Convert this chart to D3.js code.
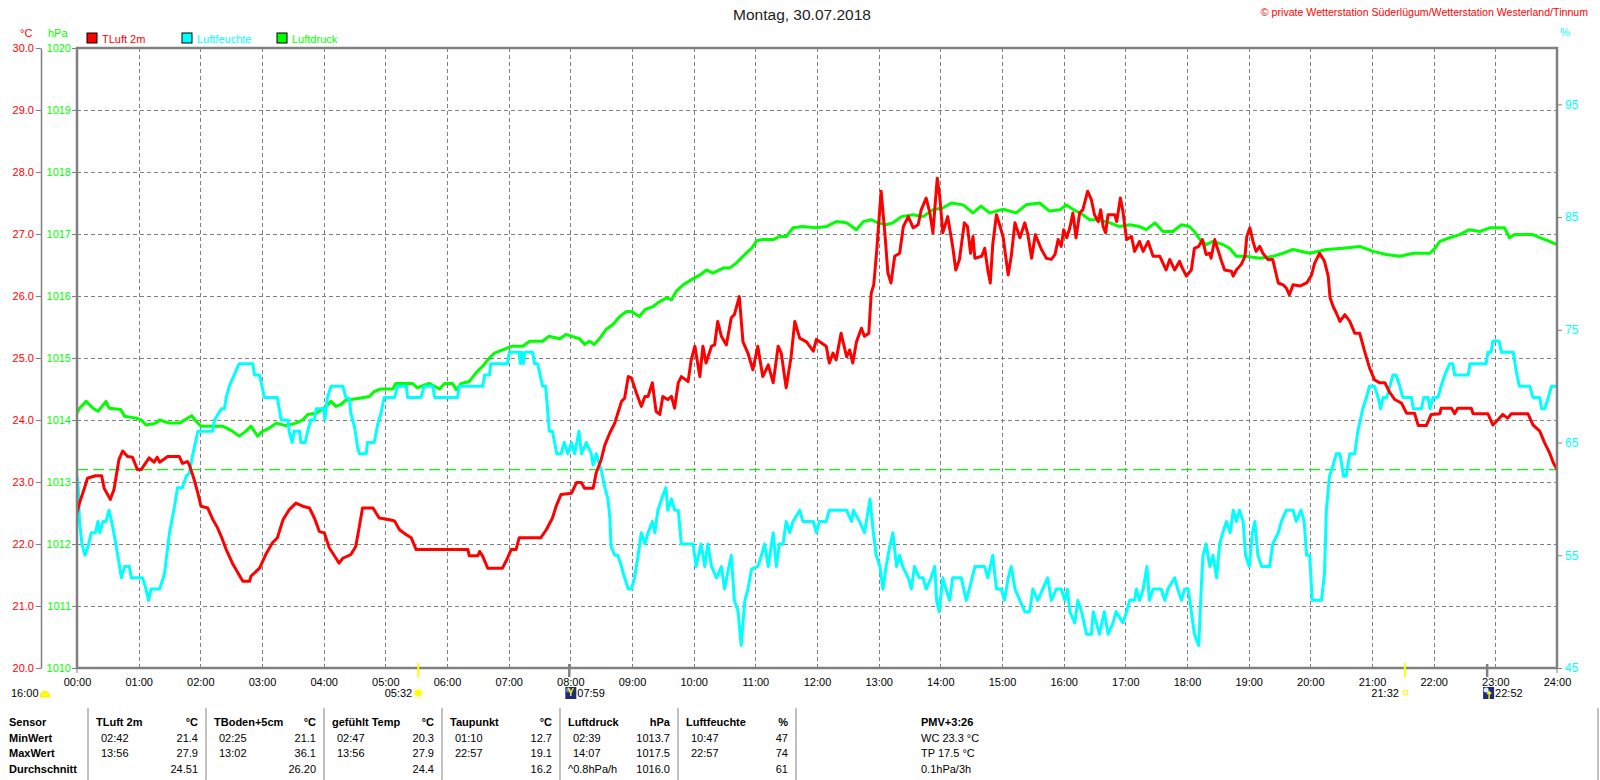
<!DOCTYPE html>
<html><head><meta charset="utf-8">
<script src="https://cdn.jsdelivr.net/npm/d3@7/dist/d3.min.js"></script>
<style>
html,body{margin:0;padding:0;background:#fff;}
svg{display:block;font-family:"Liberation Sans",Arial,sans-serif;}
</style></head>
<body>
<svg id="chart" width="1600" height="780"></svg>
<script>
// ---------------- DATA ----------------
const titleText = "Montag, 30.07.2018";
const copyrightText = "© private Wetterstation Süderlügum/Wetterstation Westerland/Tinnum";
const hourTicks = d3.range(0, 25);
const tempTicks = d3.range(20, 31);
const pressTicks = d3.range(1010, 1021);
const humTicks = [45, 55, 65, 75, 85, 95];
const refPressure = 1013.2;
const legendItems = [["TLuft 2m", "#ff0000"], ["Luftfeuchte", "#00ffff"], ["Luftdruck", "#00ff00"]];
const sunrise = 5 + 32/60, sunset = 21 + 32/60;
const moonset = 7 + 59/60, moonrise = 22 + 52/60;
const dayLength = "16:00";

// [hour, °C]
const tempSeries = [[0,22.5],[0.04,22.66],[0.12,22.9],[0.17,23.06],[0.3,23.1],[0.4,23.1],[0.44,22.9],[0.54,22.72],[0.6,22.88],[0.68,23.36],[0.74,23.5],[0.82,23.41],[0.9,23.4],[0.98,23.2],[1.04,23.2],[1.17,23.39],[1.25,23.32],[1.3,23.4],[1.34,23.32],[1.47,23.41],[1.66,23.41],[1.71,23.3],[1.79,23.33],[1.82,23.28],[1.9,23.04],[1.96,22.82],[2.01,22.61],[2.12,22.58],[2.2,22.4],[2.28,22.26],[2.36,22.07],[2.42,21.91],[2.52,21.69],[2.63,21.5],[2.69,21.4],[2.8,21.4],[2.82,21.48],[2.96,21.61],[3.06,21.83],[3.17,22.02],[3.25,22.1],[3.34,22.39],[3.44,22.55],[3.55,22.66],[3.66,22.61],[3.77,22.58],[3.85,22.42],[3.93,22.2],[4.01,22.18],[4.09,21.94],[4.2,21.77],[4.25,21.69],[4.31,21.77],[4.44,21.83],[4.52,21.96],[4.58,22.29],[4.63,22.58],[4.8,22.58],[4.9,22.42],[5.07,22.39],[5.15,22.37],[5.23,22.23],[5.34,22.15],[5.42,22.1],[5.5,21.91],[5.98,21.91],[6.34,21.91],[6.36,21.81],[6.5,21.81],[6.53,21.88],[6.58,21.8],[6.66,21.61],[6.9,21.61],[6.98,21.77],[7.04,21.91],[7.12,21.91],[7.17,22.1],[7.52,22.1],[7.61,22.23],[7.71,22.42],[7.77,22.61],[7.85,22.8],[8.02,22.82],[8.1,22.99],[8.18,22.99],[8.23,22.9],[8.37,22.9],[8.42,23.15],[8.5,23.36],[8.56,23.6],[8.64,23.79],[8.72,23.95],[8.77,24.11],[8.83,24.3],[8.88,24.35],[8.94,24.7],[8.99,24.68],[9.07,24.44],[9.15,24.22],[9.21,24.38],[9.26,24.38],[9.33,24.6],[9.39,24.14],[9.45,24.09],[9.5,24.38],[9.58,24.33],[9.64,24.38],[9.69,24.19],[9.75,24.6],[9.8,24.7],[9.91,24.62],[9.96,24.97],[10.02,25.19],[10.1,24.7],[10.15,25.19],[10.2,24.92],[10.29,25.19],[10.34,25.21],[10.39,25.59],[10.45,25.35],[10.53,25.21],[10.61,25.65],[10.66,25.7],[10.74,25.99],[10.8,25.26],[10.88,25.08],[10.96,24.81],[11.04,25.19],[11.12,24.7],[11.21,24.89],[11.29,24.6],[11.37,25.19],[11.42,25.08],[11.5,24.52],[11.58,25.02],[11.64,25.59],[11.72,25.32],[11.83,25.26],[11.94,25.11],[11.99,25.3],[12.15,25.19],[12.2,24.92],[12.26,25.08],[12.31,24.97],[12.39,25.4],[12.48,25.02],[12.53,25.13],[12.58,24.92],[12.64,25.26],[12.72,25.48],[12.77,25.35],[12.84,25.4],[12.88,26.05],[12.92,26.18],[12.97,26.75],[13.04,27.69],[13.1,27.02],[13.15,26.37],[13.2,26.21],[13.26,26.64],[13.34,26.69],[13.4,27.12],[13.48,27.28],[13.56,27.1],[13.64,27.15],[13.69,27.39],[13.77,27.58],[13.83,27.34],[13.88,27.02],[13.95,27.9],[13.99,27.61],[14.04,27.02],[14.12,27.28],[14.2,26.8],[14.25,26.42],[14.31,26.59],[14.39,27.18],[14.44,27.12],[14.49,26.69],[14.53,26.96],[14.56,26.61],[14.67,26.64],[14.72,26.77],[14.77,26.42],[14.81,26.21],[14.85,26.83],[14.91,27.31],[14.97,27.12],[15.02,26.94],[15.1,26.34],[15.15,26.64],[15.21,27.18],[15.29,26.94],[15.37,27.18],[15.42,26.99],[15.48,26.61],[15.54,26.99],[15.64,26.75],[15.72,26.61],[15.8,26.59],[15.86,26.67],[15.91,26.91],[15.96,26.8],[16.0,27.07],[16.05,26.94],[16.1,27.1],[16.15,27.34],[16.2,26.94],[16.26,27.34],[16.31,27.39],[16.39,27.69],[16.45,27.55],[16.5,27.31],[16.56,27.2],[16.6,27.39],[16.64,27.12],[16.68,27.02],[16.72,27.31],[16.83,27.31],[16.86,27.2],[16.92,27.58],[16.96,27.37],[17.02,26.91],[17.1,26.96],[17.15,26.72],[17.23,26.88],[17.29,26.72],[17.37,26.88],[17.45,26.64],[17.56,26.64],[17.61,26.53],[17.66,26.42],[17.72,26.59],[17.8,26.42],[17.88,26.56],[17.91,26.48],[17.99,26.32],[18.07,26.42],[18.12,26.77],[18.19,26.8],[18.25,26.91],[18.31,26.67],[18.37,26.69],[18.39,26.61],[18.45,26.91],[18.5,26.75],[18.56,26.56],[18.61,26.42],[18.72,26.4],[18.75,26.32],[18.8,26.42],[18.88,26.51],[18.94,26.64],[18.97,26.96],[19.02,27.1],[19.07,26.88],[19.12,26.72],[19.18,26.8],[19.23,26.69],[19.31,26.59],[19.39,26.59],[19.48,26.21],[19.56,26.18],[19.61,26.13],[19.66,26.02],[19.72,26.18],[19.83,26.16],[19.94,26.21],[20.02,26.34],[20.07,26.53],[20.15,26.69],[20.23,26.56],[20.29,26.32],[20.32,25.97],[20.37,25.83],[20.42,25.73],[20.48,25.59],[20.56,25.7],[20.64,25.59],[20.72,25.4],[20.8,25.4],[20.88,25.11],[20.96,24.84],[21.04,24.65],[21.12,24.6],[21.21,24.6],[21.29,24.44],[21.37,24.33],[21.48,24.27],[21.56,24.11],[21.69,24.11],[21.75,23.91],[21.88,23.91],[21.96,24.09],[22.1,24.1],[22.12,24.19],[22.29,24.19],[22.34,24.1],[22.39,24.19],[22.61,24.19],[22.64,24.1],[22.88,24.1],[22.96,23.92],[23.02,23.98],[23.12,24.09],[23.2,24.03],[23.26,24.1],[23.53,24.1],[23.61,23.92],[23.72,23.82],[23.8,23.63],[23.88,23.47],[23.94,23.31],[24.0,23.2]];

// [hour, %]
const humSeries = [[0,62],[0.02,61],[0.04,58],[0.08,56],[0.13,55],[0.19,56],[0.23,57],[0.3,57],[0.34,58],[0.37,57],[0.42,58],[0.47,58],[0.52,59],[0.58,57.5],[0.63,56],[0.69,54],[0.72,53],[0.77,54],[0.85,54],[0.88,53],[0.93,53],[1.06,53],[1.12,52],[1.16,51],[1.2,52],[1.34,52],[1.42,53.4],[1.5,57],[1.58,59.3],[1.63,61],[1.71,61],[1.77,62],[1.82,62.3],[1.88,64],[1.96,66],[2.2,66],[2.23,67],[2.34,68],[2.39,68],[2.42,69],[2.47,70],[2.55,71],[2.63,72],[2.85,72],[2.88,71],[2.96,71],[3.04,69],[3.25,69],[3.31,67],[3.42,67],[3.44,66],[3.49,65],[3.52,66],[3.61,66],[3.63,65],[3.7,65],[3.74,66],[3.79,67],[3.85,67],[3.88,68],[4.0,68],[4.02,67],[4.06,69],[4.12,70],[4.31,70],[4.36,69],[4.42,68.9],[4.44,67.6],[4.5,66.4],[4.55,64.6],[4.58,64],[4.69,64],[4.71,65],[4.82,65],[4.88,66.7],[4.93,67.6],[4.98,69],[5.15,69],[5.2,70],[5.34,70],[5.36,69],[5.58,69],[5.63,70],[5.77,70],[5.8,69],[6.17,69],[6.2,70],[6.58,70],[6.61,71],[6.69,71],[6.71,72],[6.98,72],[7.01,73],[7.17,73],[7.19,72],[7.21,73],[7.24,72],[7.26,73],[7.39,73],[7.42,72],[7.47,72],[7.55,70],[7.6,70],[7.66,66],[7.71,66],[7.78,64],[7.85,64],[7.9,65],[7.96,64],[8.02,65],[8.07,64],[8.14,66],[8.18,64],[8.26,65],[8.34,64],[8.37,63],[8.42,64],[8.5,62.6],[8.56,61],[8.61,60],[8.64,58.4],[8.66,55.8],[8.72,55],[8.77,55],[8.83,54],[8.88,53],[8.94,52],[8.99,52],[9.04,53],[9.1,55],[9.15,57],[9.21,56],[9.26,57],[9.33,58],[9.37,57],[9.42,59],[9.48,60],[9.55,61],[9.58,59],[9.64,60],[9.69,59],[9.75,59],[9.8,56],[9.85,56],[9.99,56],[10.04,54],[10.12,56],[10.18,54],[10.23,56],[10.29,54],[10.37,53],[10.45,54],[10.5,52],[10.56,53.7],[10.61,55],[10.66,51],[10.72,50],[10.77,47],[10.83,51],[10.88,52],[10.94,53.8],[11.04,54],[11.1,55],[11.15,56],[11.21,54],[11.29,57],[11.34,54],[11.39,56],[11.45,56],[11.5,58],[11.56,57],[11.61,58],[11.72,59],[11.77,58],[11.94,58],[11.99,57],[12.04,58],[12.15,58],[12.2,59],[12.48,59],[12.56,58],[12.59,59],[12.69,58],[12.77,57],[12.83,59],[12.86,60],[12.91,57.2],[12.96,55],[13.02,54],[13.07,52],[13.12,54],[13.18,55.8],[13.23,57],[13.29,54],[13.34,55],[13.39,54],[13.48,53],[13.53,52],[13.58,54],[13.66,53],[13.72,53],[13.77,52],[13.85,53],[13.91,54],[13.94,51],[13.98,50],[14.04,53],[14.09,52],[14.15,51],[14.2,53],[14.34,53],[14.42,51],[14.47,52],[14.56,54],[14.72,54],[14.77,53],[14.85,55],[14.91,52],[14.99,52],[15.04,51],[15.1,53],[15.15,54],[15.21,52],[15.29,51],[15.37,50],[15.45,50],[15.5,52],[15.58,51],[15.66,52],[15.74,53],[15.8,51],[15.88,52],[15.96,52],[16.02,51],[16.06,52],[16.1,50],[16.18,49],[16.23,51],[16.29,50],[16.37,48],[16.45,48],[16.48,50],[16.53,49],[16.58,48],[16.66,50],[16.72,48],[16.8,49],[16.85,50],[16.96,49],[17.02,50],[17.07,51],[17.15,51],[17.18,52],[17.23,51],[17.29,52],[17.35,54],[17.39,51],[17.45,52],[17.58,52],[17.64,51],[17.69,52],[17.8,53],[17.85,52],[17.91,51],[17.96,52],[18.02,52],[18.07,50],[18.12,48],[18.19,47],[18.23,52],[18.26,55],[18.31,56],[18.37,54],[18.42,55],[18.48,53],[18.53,56],[18.58,57],[18.64,58],[18.7,57],[18.75,59],[18.8,58],[18.85,59],[18.91,58],[18.95,55],[19.01,54],[19.06,57],[19.1,58],[19.15,55],[19.21,54],[19.34,54],[19.39,56],[19.48,57],[19.53,58],[19.61,59],[19.72,59],[19.77,58],[19.85,59],[19.9,58],[19.94,55],[19.99,55],[20.03,51],[20.18,51],[20.23,53.4],[20.26,59],[20.31,62],[20.37,63],[20.42,64],[20.48,64],[20.54,62],[20.58,62],[20.64,64],[20.72,64],[20.77,66],[20.85,68],[20.91,69],[20.96,70],[21.04,70],[21.1,69],[21.14,68],[21.18,69],[21.24,69],[21.29,70],[21.34,71],[21.39,71],[21.45,70],[21.5,69],[21.64,69],[21.67,68],[21.8,68],[21.84,69],[21.91,69],[21.94,68],[21.99,69],[22.07,69],[22.12,70],[22.18,71],[22.26,72],[22.31,72],[22.34,71],[22.56,71],[22.59,72],[22.85,72],[22.88,73],[22.93,73],[22.96,74],[23.06,74],[23.1,73],[23.29,73],[23.35,71],[23.39,70],[23.56,70],[23.61,69],[23.72,69],[23.75,68],[23.8,68],[23.86,69],[23.91,70],[24,70]];

// [hour, hPa]
const pressSeries = [[0,1014.11],[0.04,1014.19],[0.15,1014.3],[0.26,1014.19],[0.34,1014.14],[0.47,1014.3],[0.52,1014.19],[0.71,1014.17],[0.77,1014.06],[0.96,1014.03],[1.04,1014.0],[1.12,1013.92],[1.28,1013.95],[1.34,1014.0],[1.5,1013.95],[1.66,1013.95],[1.86,1014.07],[1.93,1013.98],[2.01,1013.9],[2.2,1013.9],[2.36,1013.9],[2.52,1013.82],[2.63,1013.74],[2.74,1013.82],[2.82,1013.9],[2.93,1013.74],[3.01,1013.82],[3.12,1013.87],[3.23,1013.95],[3.39,1013.91],[3.55,1013.95],[3.66,1014.0],[3.74,1014.09],[3.88,1014.11],[4.04,1014.22],[4.12,1014.3],[4.2,1014.22],[4.28,1014.25],[4.36,1014.32],[4.58,1014.35],[4.74,1014.38],[4.82,1014.46],[4.93,1014.5],[5.12,1014.5],[5.17,1014.59],[5.44,1014.59],[5.52,1014.52],[5.71,1014.59],[5.88,1014.5],[5.96,1014.59],[6.09,1014.59],[6.15,1014.49],[6.23,1014.59],[6.36,1014.62],[6.47,1014.76],[6.58,1014.87],[6.66,1014.97],[6.77,1015.08],[6.9,1015.13],[7.06,1015.19],[7.23,1015.19],[7.34,1015.27],[7.55,1015.27],[7.65,1015.35],[7.83,1015.31],[7.93,1015.38],[8.15,1015.31],[8.23,1015.22],[8.31,1015.27],[8.39,1015.22],[8.48,1015.32],[8.58,1015.46],[8.69,1015.54],[8.8,1015.67],[8.91,1015.75],[8.99,1015.75],[9.12,1015.67],[9.21,1015.78],[9.34,1015.83],[9.45,1015.91],[9.56,1015.97],[9.64,1015.94],[9.72,1016.08],[9.83,1016.18],[9.96,1016.26],[10.1,1016.34],[10.21,1016.42],[10.31,1016.37],[10.48,1016.45],[10.58,1016.45],[10.69,1016.53],[10.77,1016.61],[10.85,1016.69],[10.94,1016.77],[11.02,1016.89],[11.12,1016.91],[11.29,1016.91],[11.39,1016.96],[11.5,1016.96],[11.61,1017.1],[11.77,1017.12],[11.99,1017.1],[12.15,1017.12],[12.31,1017.2],[12.48,1017.18],[12.64,1017.07],[12.75,1017.2],[12.88,1017.23],[12.99,1017.18],[13.12,1017.15],[13.23,1017.18],[13.37,1017.28],[13.56,1017.31],[13.72,1017.28],[13.88,1017.39],[14.04,1017.42],[14.18,1017.5],[14.37,1017.47],[14.53,1017.34],[14.66,1017.45],[14.8,1017.34],[15.02,1017.4],[15.23,1017.34],[15.39,1017.47],[15.61,1017.5],[15.77,1017.37],[15.94,1017.39],[16.04,1017.47],[16.15,1017.4],[16.31,1017.31],[16.42,1017.23],[16.58,1017.23],[16.75,1017.18],[16.91,1017.12],[17.07,1017.15],[17.23,1017.12],[17.34,1017.07],[17.48,1017.18],[17.61,1017.04],[17.77,1017.04],[17.91,1017.15],[18.04,1017.12],[18.12,1017.04],[18.21,1016.91],[18.31,1016.83],[18.42,1016.88],[18.58,1016.83],[18.69,1016.77],[18.8,1016.64],[18.96,1016.64],[19.18,1016.61],[19.39,1016.64],[19.56,1016.69],[19.72,1016.75],[19.99,1016.69],[20.26,1016.75],[20.53,1016.77],[20.8,1016.8],[21.02,1016.72],[21.23,1016.67],[21.45,1016.64],[21.67,1016.69],[21.94,1016.69],[22.02,1016.77],[22.1,1016.88],[22.26,1016.94],[22.42,1016.99],[22.58,1017.07],[22.75,1017.04],[22.91,1017.1],[23.15,1017.1],[23.23,1016.94],[23.31,1016.99],[23.61,1016.99],[23.72,1016.94],[23.88,1016.88],[24,1016.83]];

// statistics table
const rowLabels = ["Sensor", "MinWert", "MaxWert", "Durchschnitt"];
const tableHeaders = [["TLuft 2m","°C"],["TBoden+5cm","°C"],["gefühlt Temp","°C"],["Taupunkt","°C"],["Luftdruck","hPa"],["Luftfeuchte","%"]];
const tableMin = [["02:42","21.4"],["02:25","21.1"],["02:47","20.3"],["01:10","12.7"],["02:39","1013.7"],["10:47","47"]];
const tableMax = [["13:56","27.9"],["13:02","36.1"],["13:56","27.9"],["22:57","19.1"],["14:07","1017.5"],["22:57","74"]];
const tableAvg = [["","24.51"],["","26.20"],["","24.4"],["","16.2"],["^0.8hPa/h","1016.0"],["","61"]];
const pmvLines = ["PMV+3:26", "WC 23.3 °C", "TP 17.5 °C", "0.1hPa/3h"];

// ---------------- CHART ----------------
const svg = d3.select("#chart");
const W = 1600, H = 780;
const L = 77, R = 1557, T = 48, B = 668;
const GRAY = "#808080";
const FONT = "11px";

svg.append("rect").attr("width", W).attr("height", H).attr("fill", "#fff");

const x = d3.scaleLinear().domain([0, 24]).range([L, R]);
const yT = d3.scaleLinear().domain([20, 30]).range([B, T]);
const yP = d3.scaleLinear().domain([1010, 1020]).range([B, T]);
const yH = d3.scaleLinear().domain([45, 100]).range([B, T]);

// grid
const grid = svg.append("g").attr("stroke", GRAY).attr("stroke-width", 1).attr("stroke-dasharray", "4,3");
grid.selectAll("line.v").data(hourTicks.filter(h => h > 0 && h < 24)).join("line")
  .attr("x1", d => Math.round(x(d)) + 0.5).attr("x2", d => Math.round(x(d)) + 0.5)
  .attr("y1", T).attr("y2", B);
grid.selectAll("line.h").data(tempTicks.filter(t => t > 20 && t < 30)).join("line")
  .attr("x1", L).attr("x2", R)
  .attr("y1", d => Math.round(yT(d)) + 0.5).attr("y2", d => Math.round(yT(d)) + 0.5);

// reference pressure line
svg.append("line").attr("x1", L).attr("x2", R)
  .attr("y1", yP(refPressure)).attr("y2", yP(refPressure))
  .attr("stroke", "#00ff00").attr("stroke-width", 1.3).attr("stroke-dasharray", "11,5");

// clip
svg.append("clipPath").attr("id", "plotclip").append("rect")
  .attr("x", L).attr("y", T).attr("width", R - L).attr("height", B - T);
const plot = svg.append("g").attr("clip-path", "url(#plotclip)");

const lineP = d3.line().x(d => x(d[0])).y(d => yP(d[1]));
const lineH = d3.line().x(d => x(d[0])).y(d => yH(d[1]));
const lineT = d3.line().x(d => x(d[0])).y(d => yT(d[1]));

plot.append("path").datum(pressSeries).attr("d", lineP)
  .attr("fill", "none").attr("stroke", "#00ff00").attr("stroke-width", 3).attr("stroke-linejoin", "round");
plot.append("path").datum(humSeries).attr("d", lineH)
  .attr("fill", "none").attr("stroke", "#00ffff").attr("stroke-width", 3).attr("stroke-linejoin", "round");
plot.append("path").datum(tempSeries).attr("d", lineT)
  .attr("fill", "none").attr("stroke", "#ff0000").attr("stroke-width", 3).attr("stroke-linejoin", "round");

// frame
svg.append("rect").attr("x", L).attr("y", T).attr("width", R - L).attr("height", B - T)
  .attr("fill", "none").attr("stroke", GRAY).attr("stroke-width", 2.5);

// left temperature axis
const axT = svg.append("g").attr("transform", "translate(41,0)")
  .call(d3.axisLeft(yT).tickValues(tempTicks).tickFormat(d3.format(".1f")).tickSize(5).tickSizeOuter(0).tickPadding(2));
axT.select(".domain").attr("stroke", GRAY).attr("stroke-width", 1.5);
axT.selectAll(".tick line").attr("stroke", GRAY);
axT.selectAll("text").attr("fill", "#ff0000").style("font-size", FONT).style("font-family", "Liberation Sans, Arial, sans-serif");

// left pressure axis
const axP = svg.append("g").attr("transform", `translate(${L},0)`)
  .call(d3.axisLeft(yP).tickValues(pressTicks).tickFormat(d3.format("d")).tickSize(5).tickSizeOuter(0).tickPadding(1));
axP.select(".domain").remove();
axP.selectAll(".tick line").attr("stroke", GRAY);
axP.selectAll("text").attr("fill", "#00ff00").style("font-size", FONT).style("font-family", "Liberation Sans, Arial, sans-serif");

// right humidity axis
const axH = svg.append("g").attr("transform", `translate(${R},0)`)
  .call(d3.axisRight(yH).tickValues(humTicks).tickFormat(d3.format("d")).tickSize(5).tickSizeOuter(0).tickPadding(3));
axH.select(".domain").remove();
axH.selectAll(".tick line").attr("stroke", GRAY);
axH.selectAll("text").attr("fill", "#00ffff").style("font-size", "12px").style("font-family", "Liberation Sans, Arial, sans-serif");

// bottom time axis
const axX = svg.append("g").attr("transform", `translate(0,${B})`)
  .call(d3.axisBottom(x).tickValues(hourTicks).tickFormat(d => d3.format("02d")(d) + ":00").tickSize(0).tickPadding(10));
axX.select(".domain").remove();
axX.selectAll("text").attr("fill", "#000").style("font-size", FONT).style("font-family", "Liberation Sans, Arial, sans-serif");
// end ticks
svg.selectAll("line.endtick").data([0, 24]).join("line")
  .attr("x1", d => x(d)).attr("x2", d => x(d)).attr("y1", B).attr("y2", B + 5)
  .attr("stroke", GRAY).attr("stroke-width", 1);

// units
svg.append("text").attr("x", 20).attr("y", 37).attr("fill", "#ff0000").style("font-size", FONT).text("°C");
svg.append("text").attr("x", 48).attr("y", 37).attr("fill", "#00ff00").style("font-size", FONT).text("hPa");
svg.append("text").attr("x", 1560).attr("y", 36).attr("fill", "#00ffff").style("font-size", FONT).text("%");

// legend
const lg = svg.append("g").selectAll("g").data(legendItems).join("g")
  .attr("transform", (d, i) => `translate(${87 + i * 95},33)`);
lg.append("rect").attr("width", 10).attr("height", 10).attr("fill", d => d[1]).attr("stroke", "#000").attr("stroke-width", 1);
lg.append("text").attr("x", 15).attr("y", 9.5).attr("fill", d => d[1]).style("font-size", FONT).text(d => d[0]);

// title + copyright
svg.append("text").attr("x", 802).attr("y", 20).attr("text-anchor", "middle").attr("fill", "#222")
  .style("font-size", "15.5px").text(titleText);
svg.append("text").attr("x", 1588).attr("y", 16).attr("text-anchor", "end").attr("fill", "#ff0000")
  .style("font-size", "10.6px").text(copyrightText);

// sun / moon markers
const astro = svg.append("g");
[sunrise, sunset].forEach(t => {
  astro.append("line").attr("x1", x(t)).attr("x2", x(t)).attr("y1", B - 5).attr("y2", B + 9)
    .attr("stroke", "#ffff00").attr("stroke-width", 2);
});
[moonset, moonrise].forEach(t => {
  astro.append("line").attr("x1", x(t)).attr("x2", x(t)).attr("y1", B - 4).attr("y2", B + 9)
    .attr("stroke", GRAY).attr("stroke-width", 2.5);
});
const fmtHM = t => d3.format("02d")(Math.floor(t + 1e-6)) + ":" + d3.format("02d")(Math.round((t - Math.floor(t + 1e-6)) * 60));
const labY = 697;
// day length with half-sun
svg.append("text").attr("x", 11).attr("y", labY).style("font-size", FONT).attr("fill", "#000").text(dayLength);
svg.append("path").attr("d", "M40,697 A5,6 0 0 1 50,697 Z").attr("fill", "#ffff00").attr("stroke", "#e8d800").attr("stroke-width", 0.6);
// sunrise
const sx = x(sunrise);
svg.append("text").attr("x", sx - 6).attr("y", labY).attr("text-anchor", "end").style("font-size", FONT).text(fmtHM(sunrise));
const sunG = svg.append("g").attr("transform", `translate(${sx},693)`);
sunG.selectAll("line").data(d3.range(8)).join("line")
  .attr("x1", d => Math.cos(d * Math.PI / 4) * 4).attr("y1", d => Math.sin(d * Math.PI / 4) * 4)
  .attr("x2", d => Math.cos(d * Math.PI / 4) * 6).attr("y2", d => Math.sin(d * Math.PI / 4) * 6)
  .attr("stroke", "#ffff66").attr("stroke-width", 1);
sunG.append("circle").attr("r", 3.5).attr("fill", "#ffff00");
// sunset
const ssx = x(sunset);
svg.append("text").attr("x", ssx - 6).attr("y", labY).attr("text-anchor", "end").style("font-size", FONT).text(fmtHM(sunset));
svg.append("rect").attr("x", ssx - 1.5).attr("y", 690.5).attr("width", 4).attr("height", 4)
  .attr("fill", "none").attr("stroke", "#ffff00").attr("stroke-width", 1);
// moon icons
function moonIcon(t, up) {
  const mx = x(t);
  const g = svg.append("g").attr("transform", `translate(${mx - 4},687)`);
  g.append("rect").attr("width", 11).attr("height", 12).attr("fill", "#1c2a80");
  g.append("circle").attr("cx", 3).attr("cy", 3).attr("r", 2.5).attr("fill", up ? "#e8eeff" : "#7080c0");
  if (up) {
    g.append("path").attr("d", "M6,12 V5 M4,7 L6,4.5 L8,7").attr("stroke", "#ffff00").attr("stroke-width", 1.4).attr("fill", "none");
  } else {
    g.append("path").attr("d", "M3,1 L5.5,6 L8,1 M5.5,6 V9").attr("stroke", "#ffff00").attr("stroke-width", 1.4).attr("fill", "none");
  }
  svg.append("text").attr("x", mx + 8).attr("y", labY).style("font-size", FONT).text(fmtHM(t));
}
moonIcon(moonset, false);
moonIcon(moonrise, true);

// ---------------- TABLE ----------------
const colStart = d3.scaleLinear().domain([0, 1]).range([96, 214]);
const colRight = d3.scaleLinear().domain([0, 1]).range([198, 316]);
const sepX = d3.scaleLinear().domain([0, 1]).range([88, 206]);
const rowY = d3.scaleLinear().domain([0, 1]).range([726, 741.7]);
const tbl = svg.append("g").style("font-size", FONT).attr("fill", "#000");

tbl.selectAll("line.sep").data(d3.range(7)).join("line")
  .attr("x1", d => sepX(d)).attr("x2", d => sepX(d)).attr("y1", 708).attr("y2", 780)
  .attr("stroke", "#a0a0a0").attr("stroke-width", 1.3);
tbl.append("line").attr("x1", 1598).attr("x2", 1598).attr("y1", 708).attr("y2", 780)
  .attr("stroke", "#a0a0a0").attr("stroke-width", 1.3);

tbl.selectAll("text.rowlab").data(rowLabels).join("text")
  .attr("x", 9).attr("y", (d, i) => rowY(i)).style("font-weight", "bold").text(d => d);

tableHeaders.forEach((h, i) => {
  tbl.append("text").attr("x", colStart(i)).attr("y", rowY(0)).style("font-weight", "bold").text(h[0]);
  tbl.append("text").attr("x", colRight(i)).attr("y", rowY(0)).attr("text-anchor", "end").style("font-weight", "bold").text(h[1]);
});
[tableMin, tableMax, tableAvg].forEach((rows, r) => {
  rows.forEach((cell, i) => {
    const indent = (r === 2) ? 0 : 5;
    if (cell[0]) tbl.append("text").attr("x", colStart(i) + indent).attr("y", rowY(r + 1)).text(cell[0]);
    tbl.append("text").attr("x", colRight(i)).attr("y", rowY(r + 1)).attr("text-anchor", "end").text(cell[1]);
  });
});
pmvLines.forEach((s, i) => {
  tbl.append("text").attr("x", 921).attr("y", rowY(i)).style("font-weight", i === 0 ? "bold" : "normal").text(s);
});
</script>
</body></html>
